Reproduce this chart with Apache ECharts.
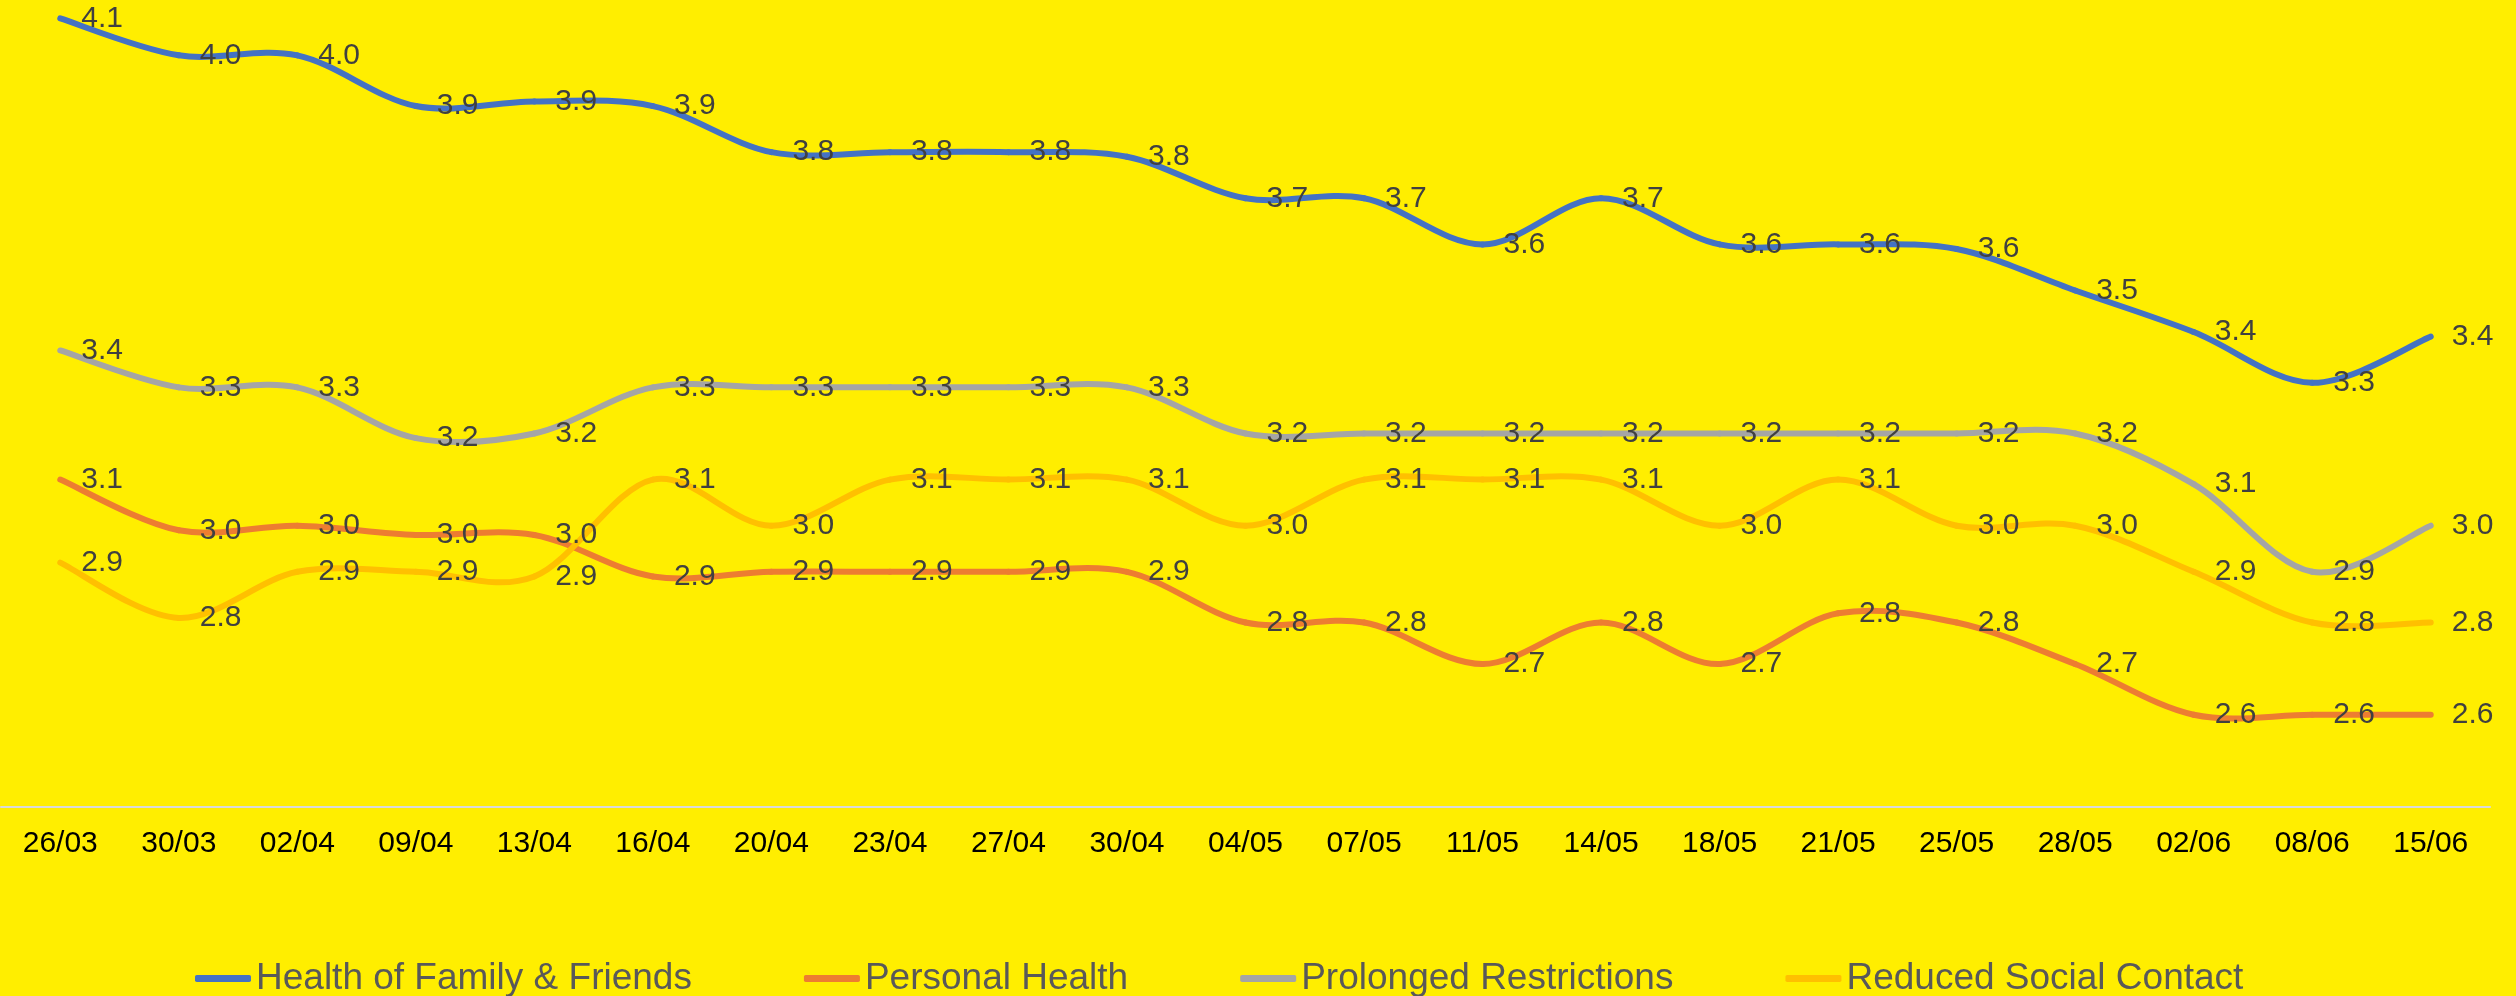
<!DOCTYPE html>
<html>
<head>
<meta charset="utf-8">
<script src="https://cdn.jsdelivr.net/npm/echarts@6/dist/echarts.min.js"></script>
<style>
  html, body { margin: 0; padding: 0; background: #FFEE00; }
  #chart { width: 2516px; height: 996px; }
</style>
</head>
<body>
<div id="chart"></div>
<script>
const dates = ['26/03', '30/03', '02/04', '09/04', '13/04', '16/04', '20/04', '23/04', '27/04', '30/04',
  '04/05', '07/05', '11/05', '14/05', '18/05', '21/05', '25/05', '28/05', '02/06', '08/06', '15/06']

const familyHealth = [4.11, 4.03, 4.03, 3.92, 3.93, 3.92, 3.82, 3.82, 3.82, 3.81,
  3.72, 3.72, 3.62, 3.72, 3.62, 3.62, 3.61, 3.52, 3.43, 3.32, 3.42]
const personalHealth = [3.11, 3.00, 3.01, 2.99, 2.99, 2.90, 2.91, 2.91, 2.91, 2.91,
  2.80, 2.80, 2.71, 2.80, 2.71, 2.82, 2.80, 2.71, 2.60, 2.60, 2.60]
const prolongedRestrictions = [3.39, 3.31, 3.31, 3.20, 3.21, 3.31, 3.31, 3.31, 3.31, 3.31,
  3.21, 3.21, 3.21, 3.21, 3.21, 3.21, 3.21, 3.21, 3.10, 2.91, 3.01]
const reducedContact = [2.93, 2.81, 2.91, 2.91, 2.90, 3.11, 3.01, 3.11, 3.11, 3.11,
  3.01, 3.11, 3.11, 3.11, 3.01, 3.11, 3.01, 3.01, 2.91, 2.80, 2.80]

const seriesNames = ['Health of Family & Friends', 'Personal Health', 'Prolonged Restrictions', 'Reduced Social Contact']
const seriesColors = ['#4472C4', '#ED7D31', '#A5A5A5', '#FFC000']
const seriesData = [familyHealth, personalHealth, prolongedRestrictions, reducedContact]

const FONT = '"Liberation Sans", Arial, sans-serif'

const chart = echarts.init(document.getElementById('chart'))

// labels + legend entry; the line itself is drawn by the custom series below
const labelSeries = (name, idx) => ({
  name,
  type: 'line',
  data: seriesData[idx],
  symbol: 'circle',
  symbolSize: 0,
  showSymbol: true,
  color: seriesColors[idx],
  lineStyle: { width: 6, color: seriesColors[idx], opacity: 0 },
  itemStyle: { color: seriesColors[idx] },
  label: {
    show: true,
    position: 'right',
    distance: 21,
    fontFamily: FONT,
    fontSize: 30,
    color: '#404040',
    formatter: p => p.value.toFixed(1)
  },
  z: 3,
  emphasis: { disabled: true },
  animation: false
})

// smoothed curve drawn segment by segment (Catmull-Rom style, like the spreadsheet)
const curveSeries = (name, idx) => {
  const vals = seriesData[idx]
  const last = vals.length - 1
  return {
    name,
    type: 'custom',
    data: vals.map((v, i) => [i, v]),
    encode: { x: 0, y: 1 },
    silent: true,
    z: 1,
    animation: false,
    renderItem: (params, api) => {
      const i = params.dataIndex
      if (i >= last) return null
      const i0 = Math.max(i - 1, 0)
      const i3 = Math.min(i + 2, last)
      const p0 = api.coord([i0, vals[i0]])
      const p1 = api.coord([i, vals[i]])
      const p2 = api.coord([i + 1, vals[i + 1]])
      const p3 = api.coord([i3, vals[i3]])
      return {
        type: 'bezierCurve',
        shape: {
          x1: p1[0], y1: p1[1],
          x2: p2[0], y2: p2[1],
          cpx1: p1[0] + (p2[0] - p0[0]) / 6,
          cpy1: p1[1] + (p2[1] - p0[1]) / 6,
          cpx2: p2[0] - (p3[0] - p1[0]) / 6,
          cpy2: p2[1] - (p3[1] - p1[1]) / 6
        },
        style: { stroke: seriesColors[idx], lineWidth: 6, fill: null, lineCap: 'round' }
      }
    }
  }
}

chart.setOption({
  backgroundColor: '#FFEE00',
  grid: { left: 1, right: 26, top: 0, bottom: 189, containLabel: false },
  xAxis: {
    type: 'category',
    data: dates,
    boundaryGap: true,
    axisLine: { show: true, lineStyle: { color: '#D9D9D9', width: 2 } },
    axisTick: { show: false },
    axisLabel: { fontFamily: FONT, fontSize: 30, color: '#000000', margin: 22 },
    splitLine: { show: false }
  },
  yAxis: {
    type: 'value',
    min: 2.4,
    max: 4.15,
    show: false,
    splitLine: { show: false }
  },
  legend: {
    data: seriesNames.map((n, i) => ({
      name: n,
      icon: 'roundRect',
      itemStyle: { color: seriesColors[i], opacity: 1, borderWidth: 0 }
    })),
    left: 190,
    top: 955,
    itemWidth: 56,
    itemHeight: 7,
    itemGap: 112,
    textStyle: { fontFamily: FONT, fontSize: 37, color: '#595959' }
  },
  series: [...seriesNames.map(labelSeries), ...seriesNames.map(curveSeries)]
})
</script>
</body>
</html>
